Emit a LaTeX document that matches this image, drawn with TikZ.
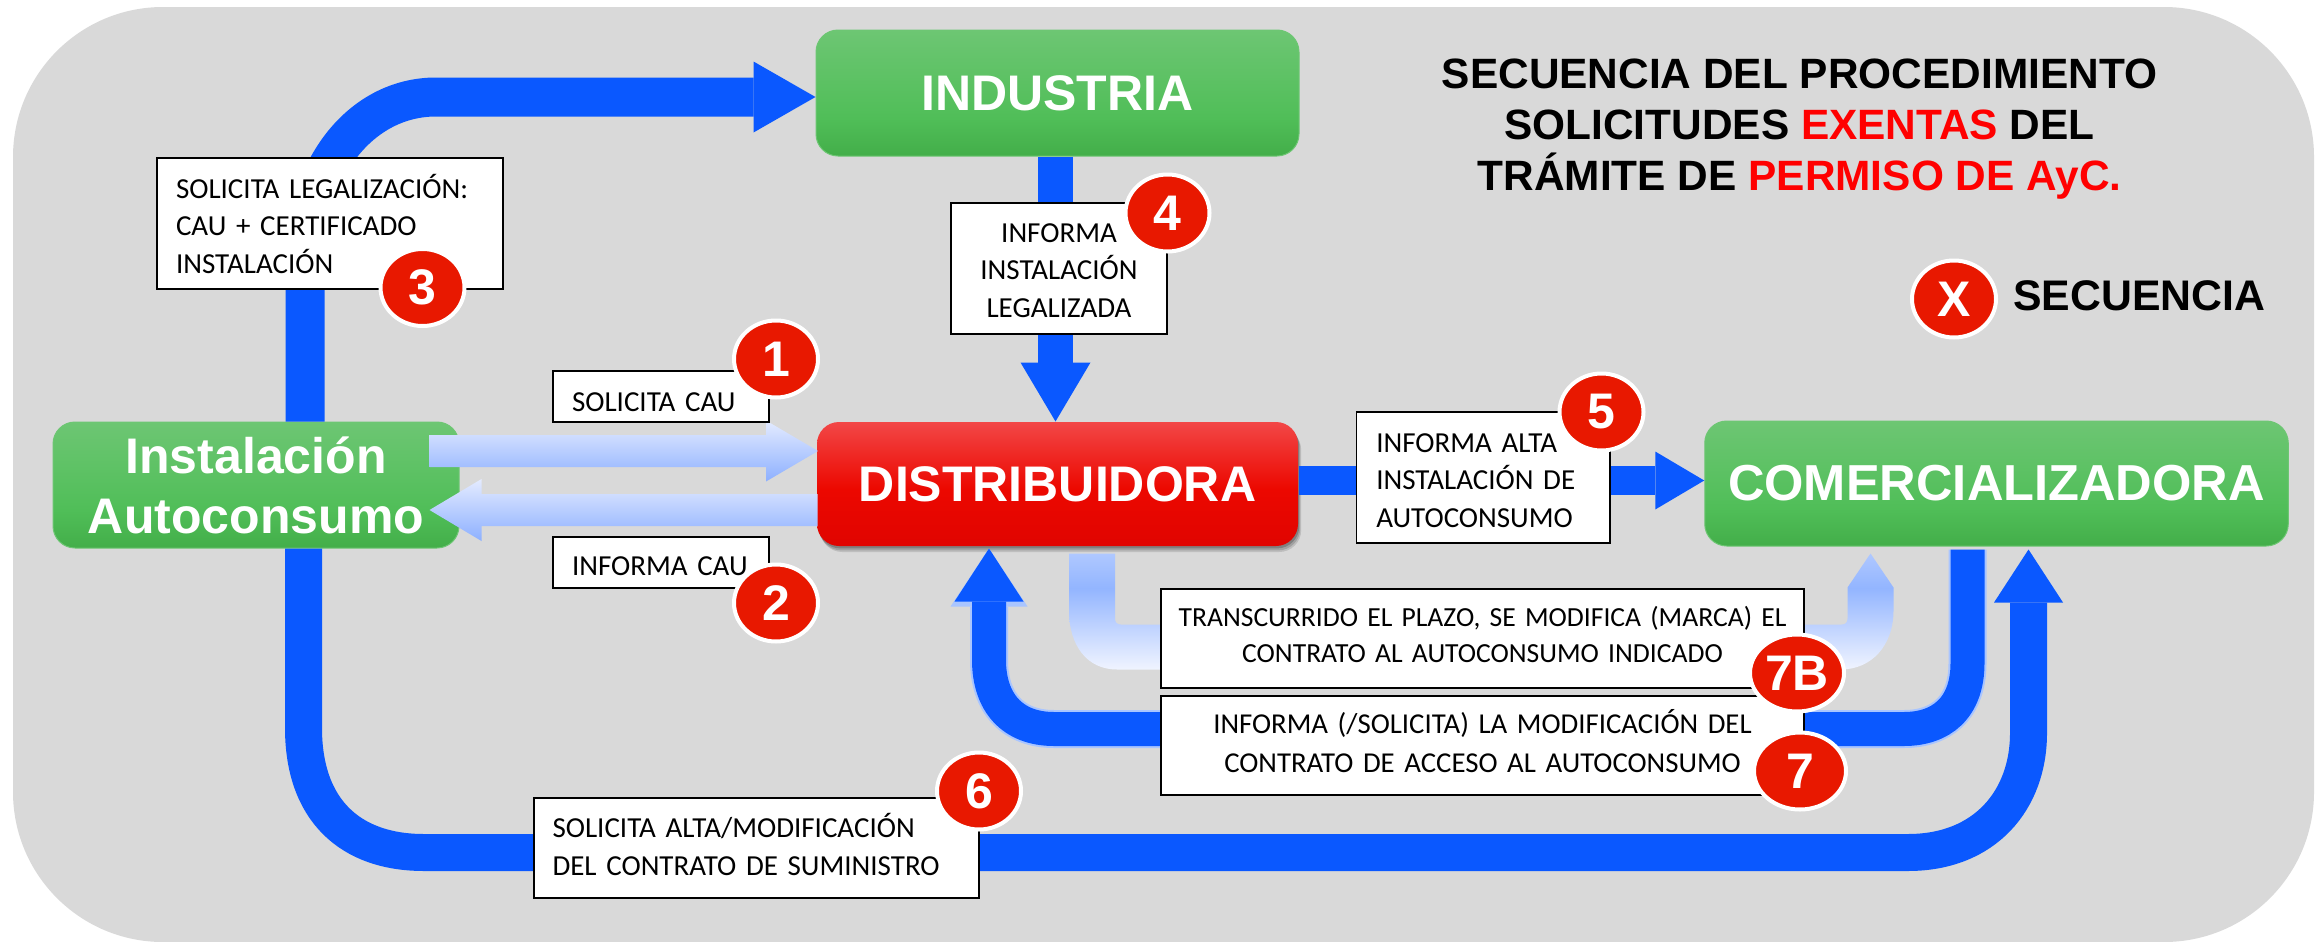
\documentclass[tikz,border=0pt]{standalone}
\usepackage{fontspec}
\setmainfont{Liberation Sans}
\newfontfamily\boxfont{Carlito}
\usetikzlibrary{arrows.meta,calc,shadows,shapes.geometric}
\definecolor{panelgrey}{HTML}{D9D9D9}
\definecolor{flowblue}{HTML}{0A58FF}
\definecolor{paleedge}{HTML}{A9C5FF}
\definecolor{badgered}{HTML}{E81800}
\definecolor{titlered}{HTML}{FF0000}
\definecolor{gtop}{HTML}{6DC673}
\definecolor{gmid}{HTML}{50BE58}
\definecolor{gbot}{HTML}{43AE49}
\definecolor{rtop}{HTML}{F24747}
\definecolor{rmid}{HTML}{EC0800}
\definecolor{rbot}{HTML}{E00400}
\definecolor{ltop}{HTML}{E4EBFF}
\definecolor{lbot}{HTML}{8DB0FF}
\definecolor{ftop}{HTML}{AFC8FF}
\definecolor{fmid}{HTML}{93B5FF}
\definecolor{fbot}{HTML}{F0F4FF}
\pgfdeclareverticalshading{greenbox}{100bp}{color(0bp)=(gbot); color(25bp)=(gbot); color(40bp)=(gmid); color(75bp)=(gtop); color(100bp)=(gtop)}
\pgfdeclareverticalshading{redbox}{100bp}{color(0bp)=(rbot); color(25bp)=(rbot); color(48bp)=(rmid); color(75bp)=(rtop); color(100bp)=(rtop)}
\pgfdeclareverticalshading{litearrow}{100bp}{color(0bp)=(lbot); color(25bp)=(lbot); color(75bp)=(ltop); color(100bp)=(ltop)}
\pgfdeclareverticalshading{liteloop}{100bp}{color(0bp)=(fbot); color(25bp)=(fbot); color(60bp)=(fmid); color(75bp)=(ftop); color(100bp)=(ftop)}
\tikzset{
  actor/.style={rounded corners=11pt,inner sep=0pt,draw=gtop,line width=.5pt,shading=greenbox,text=white,align=center,
    font=\fontsize{25}{30}\selectfont\bfseries},
  actorred/.style={actor,draw=none,shading=redbox},
  memo/.style={draw=black,line width=.7pt,fill=white,inner ysep=0pt,inner xsep=0pt,align=left,
    font=\boxfont\fontsize{14.5}{18.75}\selectfont},
  badge/.style={ellipse,draw=white,line width=2pt,fill=badgered,text=white,inner sep=0pt,outer sep=0pt,
    minimum width=42pt,minimum height=38.5pt,font=\fontsize{25}{25}\selectfont\bfseries},
  flow/.style={draw=flowblue,line cap=butt},
  liteflow/.style={shading=litearrow},
}
\newcommand{\blockarr}[5]{%
  \shade[liteflow] ($(#1)+(0,-#4)$) -- ($(#2)+(-#3,-#4)$) -- ($(#2)+(-#3,-#5)$) -- (#2)
    -- ($(#2)+(-#3,#5)$) -- ($(#2)+(-#3,#4)$) -- ($(#1)+(0,#4)$) -- cycle;}
\newcommand{\tallfirst}[1]{\rule{0pt}{#1}}
\newcommand{\deeplast}[1]{\rule[-#1]{0pt}{0pt}}
\begin{document}
\begin{tikzpicture}[x=0.5pt,y=-0.5pt]
\useasboundingbox (0,0) rectangle (2318,942);
\fill[panelgrey,rounded corners=75pt] (13,7) rectangle (2314,942);

% actors
\node[actor,minimum width=241.5pt,minimum height=63pt] (ind) at (1057.5,93) {INDUSTRIA};
\node[actorred,minimum width=240.5pt,minimum height=62pt,
  drop shadow={shadow xshift=1.6pt,shadow yshift=-3pt,opacity=.12,fill=black},
  drop shadow={shadow xshift=1.1pt,shadow yshift=-2.2pt,opacity=.15,fill=black},
  drop shadow={shadow xshift=.6pt,shadow yshift=-1.2pt,opacity=.2,fill=black}] (dist) at (1057.5,484) {DISTRIBUIDORA};
\node[actor,minimum width=203pt,minimum height=63pt] (inst) at (256,485) {Instalación\\Autoconsumo};
\node[actor,minimum width=291.75pt,minimum height=62.5pt,font=\fontsize{25.3}{30}\selectfont\bfseries] (com) at (1996.5,483.5) {COMERCIALIZADORA};

% solid connectors
\draw[flow,line width=19.5pt,-{Triangle[length=31pt,width=35.5pt,line width=0pt]}]
  (inst.north -| 305,0) -- (305,260) .. controls (305,170) and (360,97) .. (436,97) -- (ind.west |- 0,97);
\draw[flow,line width=18.5pt,-{Triangle[length=26.5pt,width=34.5pt,line width=0pt]}]
  (inst.south -| 303.5,0) -- (303.5,728) .. controls (303.5,810) and (350,852.5) .. (424,852.5)
  -- (1908,852.5) .. controls (1985,852.5) and (2028.5,800) .. (2028.5,733) -- ([yshift=-1.5pt]com.south -| 2028.5,0);
\draw[flow,line width=17.5pt,-{Triangle[length=29.5pt,width=35pt,line width=0pt]}]
  (ind.south -| 1055.5,0) -- (dist.north -| 1055.5,0);
\draw[flow,line width=14.5pt,-{Triangle[length=24.5pt,width=29pt,line width=0pt]}]
  (dist.east |- 0,480.5) -- (com.west |- 0,480.5);
\draw[flow,line width=17pt,preaction={draw=paleedge,line width=19pt,-{Triangle[length=29pt,width=38.5pt,line width=0pt]}},-{Triangle[length=26.5pt,width=34.5pt,line width=0pt]}]
  ([yshift=-1.5pt]com.south -| 1967.5,0) -- (1967.5,663) .. controls (1967.5,708) and (1941,729) .. (1904,729)
  -- (1054,729) .. controls (1012,729) and (989,702) .. (989,660) -- ([yshift=-1pt]dist.south -| 989,0);

% pale connectors
\coordinate (a1s) at ($(inst.east)+(-30,-34)$);
\coordinate (a1t) at ($(dist.west)+(1.5,-33)$);
\coordinate (a2s) at ($(dist.west)+(1,26)$);
\coordinate (a2t) at ($(inst.east)+(-30,25)$);
\blockarr{a1s}{a1t}{52}{16}{30.5}
\blockarr{a2s}{a2t}{-52}{16}{31}
\coordinate (b7s) at ([yshift=-3.5pt]dist.south -| 1092,0);
\coordinate (b7t) at ([yshift=-3.5pt]com.south -| 1870.5,0);
\shade[shading=liteloop] ($(b7s)+(-23,0)$) -- ($(b7s)+(23,0)$) -- ($(b7s)+(23,65)$)
  .. controls ($(b7s)+(23,69)$) and ($(b7s)+(25,71)$) .. ($(b7s)+(29,71)$)
  -- ($(b7t)+(-29,71)$)
  .. controls ($(b7t)+(-25,71)$) and ($(b7t)+(-23,69)$) .. ($(b7t)+(-23,65)$)
  -- ($(b7t)+(-23,34)$) -- (b7t) -- ($(b7t)+(23,34)$) -- ($(b7t)+(23,57)$)
  .. controls ($(b7t)+(23,92)$) and ($(b7t)+(1,116)$) .. ($(b7t)+(-30,116)$)
  -- ($(b7s)+(25,116)$)
  .. controls ($(b7s)+(-5,116)$) and ($(b7s)+(-23,92)$) .. ($(b7s)+(-23,57)$) -- cycle;

% memo boxes
\node[memo,minimum width=108pt,minimum height=25.5pt,text width=89pt] (m1) at (661,396.5) {\tallfirst{14.9pt}SOLICITA CAU};
\node[memo,minimum width=108pt,minimum height=25.5pt,text width=89pt] (m2) at (661,562.5) {\tallfirst{13.5pt}INFORMA CAU};
\node[memo,minimum width=173pt,minimum height=65.5pt,text width=154pt] (m3) at (330,223.5) {SOLICITA LEGALIZACIÓN:\\CAU + CERTIFICADO\\INSTALACIÓN};
\node[memo,minimum width=108pt,minimum height=65.5pt,text width=100pt,align=center] (m4) at (1059,268.5) {\tallfirst{11.5pt}INFORMA\\INSTALACIÓN\\LEGALIZADA};
\node[memo,minimum width=126.75pt,minimum height=65.5pt,text width=107pt] (m5) at (1483.25,477.5) {\tallfirst{12.5pt}INFORMA ALTA\\INSTALACIÓN DE\\AUTOCONSUMO};
\node[memo,minimum width=222.5pt,minimum height=50pt,text width=204pt] (m6) at (756.5,848) {SOLICITA ALTA/MODIFICACIÓN\\DEL CONTRATO DE SUMINISTRO\deeplast{3.5pt}};
\node[memo,minimum width=321.5pt,minimum height=49.5pt,text width=320pt,align=center,font=\boxfont\fontsize{13.8}{18}\selectfont] (m7b) at (1482.5,638.5) {TRANSCURRIDO EL PLAZO, SE MODIFICA (MARCA) EL\\CONTRATO AL AUTOCONSUMO INDICADO\deeplast{4.5pt}};
\node[memo,minimum width=321.5pt,minimum height=49.5pt,text width=320pt,align=center,font=\boxfont\fontsize{14.4}{19.5}\selectfont] (m7) at (1482.5,745.5) {INFORMA (/SOLICITA) LA MODIFICACIÓN DEL\\CONTRATO DE ACCESO AL AUTOCONSUMO\deeplast{4.5pt}};

% badges
\node[badge] (n1) at (776,359) {1};
\node[badge] (n2) at (776,603) {2};
\node[badge] (n3) at (422.5,287.5) {3};
\node[badge] (n4) at (1167.5,213) {4};
\node[badge] (n5) at (1601.5,412) {5};
\node[badge] (n6) at (979,791) {6};
\node[badge,minimum width=47pt] (n7b) at (1797,673) {7B};
\node[badge,minimum width=46pt] (n7) at (1800,771) {7};
\node[badge] (nx) at (1954,299) {X};

% title and legend
\node[align=center,inner sep=0pt,font=\fontsize{21.2}{25.5}\selectfont\bfseries] (title) at (1799.5,129.5)
  {SECUENCIA DEL PROCEDIMIENTO\\SOLICITUDES \textcolor{titlered}{EXENTAS} DEL\\TRÁMITE DE \textcolor{titlered}{PERMISO DE AyC.}};
\node[anchor=west,inner sep=0pt,font=\fontsize{21.4}{26}\selectfont\bfseries] (legend) at (2013,296) {SECUENCIA};
\end{tikzpicture}
\end{document}
